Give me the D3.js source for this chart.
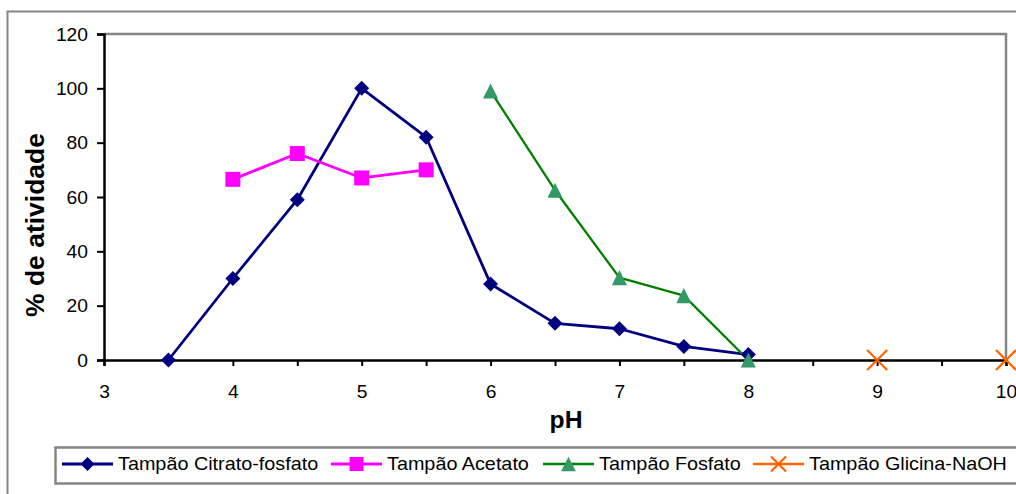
<!DOCTYPE html>
<html>
<head>
<meta charset="utf-8">
<script src="https://cdn.jsdelivr.net/npm/d3@7"></script>
<style>
  html, body { margin: 0; padding: 0; background: #fff; }
  svg { display: block; font-family: Arial, "Liberation Sans", sans-serif; }
</style>
</head>
<body>
<svg id="chart" width="1016" height="494"></svg>
<script>
// pH values and relative activity for each buffer
const phCitrato = [3.5, 4, 4.5, 5, 5.5, 6, 6.5, 7, 7.5, 8];
const atvCitrato = [0, 30, 59, 100, 82, 28, 13.5, 11.5, 5, 2];
const phAcetato = [4, 4.5, 5, 5.5];
const atvAcetato = [66.5, 76, 67, 70];
const phFosfato = [6, 6.5, 7, 7.5, 8];
const atvFosfato = [99, 62.5, 30.3, 23.7, 0];
const phGlicina = [9, 10];
const atvGlicina = [0, 0];

const seriesNames = ["Tampão Citrato-fosfato", "Tampão Acetato", "Tampão Fosfato", "Tampão Glicina-NaOH"];
const xTicks = [3, 4, 5, 6, 7, 8, 9, 10];
const yTicks = [0, 20, 40, 60, 80, 100, 120];

const series = [
  { name: seriesNames[0], x: phCitrato, y: atvCitrato, line: "#000080", fill: "#000080", marker: "diamond", lw: 2.8, connect: true },
  { name: seriesNames[1], x: phAcetato, y: atvAcetato, line: "#ff00ff", fill: "#ff00ff", marker: "square", lw: 2.8, connect: true },
  { name: seriesNames[2], x: phFosfato, y: atvFosfato, line: "#008000", fill: "#339966", marker: "triangle", lw: 2.3, connect: true },
  { name: seriesNames[3], x: phGlicina, y: atvGlicina, line: "#ff6600", fill: "#ff6600", marker: "cross", lw: 2.3, connect: false }
];

const svg = d3.select("#chart");
const grey = "#868686";

// outer chart frame
svg.append("rect").attr("x", 7.5).attr("y", 11.5).attr("width", 1040).attr("height", 520)
  .attr("fill", "#fff").attr("stroke", grey).attr("stroke-width", 2);

const plot = { left: 104, right: 1006, top: 34, bottom: 360 };
const x = d3.scaleLinear().domain([3, 10]).range([plot.left, plot.right]);
const y = d3.scaleLinear().domain([0, 120]).range([plot.bottom, plot.top]);

// plot area border (top and right)
svg.append("path")
  .attr("d", `M${plot.left},${plot.top}H${plot.right}V${plot.bottom}`)
  .attr("fill", "none").attr("stroke", grey).attr("stroke-width", 2.5);

function markerPath(type, s) {
  if (type === "diamond") return `M0,${-s}L${s},0L0,${s}L${-s},0Z`;
  if (type === "square") return `M${-s},${-s}H${s}V${s}H${-s}Z`;
  if (type === "triangle") return `M0,${-s * 1.05}L${s * 1.05},${s * 1.05}L${-s * 1.05},${s * 1.05}Z`;
  return `M${-s},${-s}L${s},${s}M${s},${-s}L${-s},${s}`;
}
function drawMarker(g, s, type, size) {
  const p = g.append("path").attr("d", markerPath(type, size));
  if (type === "cross") p.attr("fill", "none").attr("stroke", s.fill).attr("stroke-width", 2.3);
  else p.attr("fill", s.fill);
}
const plotSize = { diamond: 7.5, square: 7.5, triangle: 7.2, cross: 10 };
const legendSize = { diamond: 7, square: 7, triangle: 7, cross: 7.5 };

// series lines
const lineGen = d3.line().x(d => x(d[0])).y(d => y(d[1]));
series.filter(s => s.connect).forEach(s => {
  svg.append("path").datum(d3.zip(s.x, s.y))
    .attr("d", lineGen).attr("fill", "none")
    .attr("stroke", s.line).attr("stroke-width", s.lw).attr("stroke-linejoin", "round");
});

// axes
const sxTick = 1.1;
const xAxis = d3.axisBottom(x).tickValues(d3.range(3, 10.01, 0.5)).tickSize(6).tickPadding(0)
  .tickFormat(d => xTicks.includes(d) ? d3.format("d")(d) : "");
const gx = svg.append("g").attr("transform", `translate(0,${plot.bottom})`).call(xAxis);
gx.select(".domain").attr("stroke", "#000").attr("stroke-width", 2.5);
gx.selectAll(".tick line").attr("stroke", "#000").attr("stroke-width", 2);
gx.selectAll(".tick text").attr("font-size", 17.5).attr("fill", "#000")
  .attr("dy", null).attr("y", 0).attr("transform", `translate(0,37.5) scale(${sxTick},1)`)
  .attr("font-family", "Arial, 'Liberation Sans', sans-serif");

const yAxis = d3.axisLeft(y).tickValues(yTicks).tickSize(7).tickPadding(0).tickFormat(d3.format("d"));
const gy = svg.append("g").attr("transform", `translate(${plot.left},0)`).call(yAxis);
gy.select(".domain").attr("stroke", "#000").attr("stroke-width", 2.5);
gy.selectAll(".tick line").attr("stroke", "#000").attr("stroke-width", 2);
gy.selectAll(".tick text").attr("font-size", 17.5).attr("fill", "#000")
  .attr("x", 0).attr("dy", "0.36em").attr("transform", `translate(-16,0) scale(${sxTick},1)`)
  .attr("font-family", "Arial, 'Liberation Sans', sans-serif");

// series markers
series.forEach(s => {
  d3.zip(s.x, s.y).forEach(d => {
    const g = svg.append("g").attr("transform", `translate(${x(d[0])},${y(d[1])})`);
    drawMarker(g, s, s.marker, plotSize[s.marker]);
  });
});

// axis titles
svg.append("text").attr("transform", "translate(566,428) scale(1.05,1)")
  .attr("text-anchor", "middle").attr("font-size", 23.5).attr("font-weight", "bold").text("pH");
svg.append("text").attr("transform", "translate(44,225) rotate(-90)")
  .attr("text-anchor", "middle").attr("font-size", 26).attr("font-weight", "bold")
  .attr("textLength", 184).attr("lengthAdjust", "spacingAndGlyphs").text("% de atividade");

// legend
svg.append("rect").attr("x", 55.5).attr("y", 447.5).attr("width", 1000).attr("height", 36)
  .attr("fill", "#fff").attr("stroke", grey).attr("stroke-width", 2.5);
const legendX = [62, 331, 543, 753];
series.forEach((s, i) => {
  const g = svg.append("g").attr("transform", `translate(${legendX[i]},464)`);
  g.append("line").attr("x1", 0).attr("x2", 51).attr("stroke", s.line).attr("stroke-width", s.lw);
  const m = g.append("g").attr("transform", "translate(25.5,0)");
  drawMarker(m, s, s.marker, legendSize[s.marker]);
  g.append("text").attr("transform", "translate(56,6) scale(1.1,1)")
    .attr("font-size", 18).attr("fill", "#000").text(s.name);
});
</script>
</body>
</html>
